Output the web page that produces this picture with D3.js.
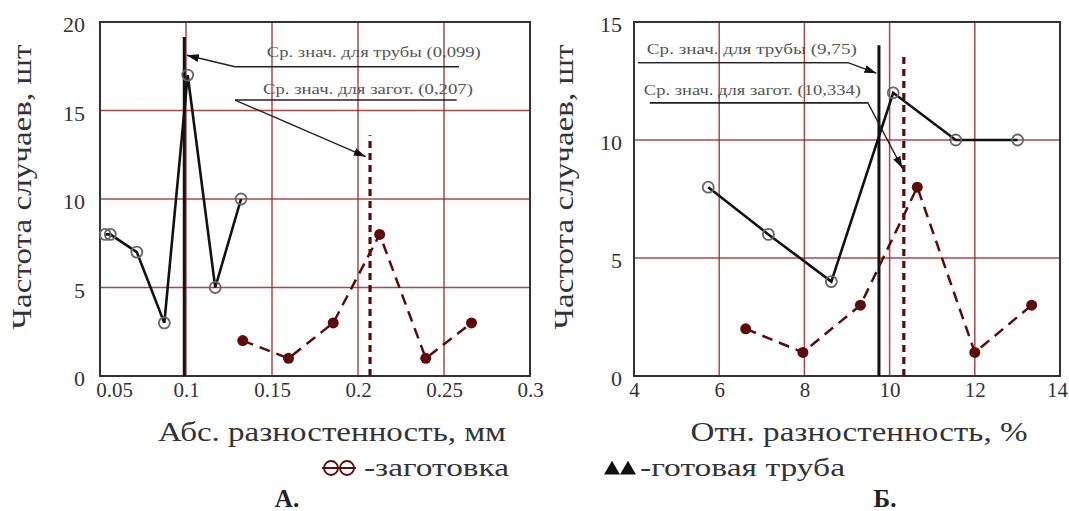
<!DOCTYPE html>
<html><head><meta charset="utf-8">
<script src="https://cdn.jsdelivr.net/npm/d3@7"></script>
<style>
html,body{margin:0;padding:0;background:#fff;}
svg text{font-family:"Liberation Serif","Times New Roman",Times,serif;}
</style></head>
<body><svg id="c" width="1069" height="511"></svg>
<script>
// ---------- data ----------
// Chart A: absolute wall-thickness variation, mm
const aXTicks = [0.05, 0.1, 0.15, 0.2, 0.25, 0.3];
const aXTickLabels = ["0.05", "0.1", "0.15", "0.2", "0.25", "0.3"];
const aYTicks = [0, 5, 10, 15, 20];
const aPipeX = [0.053, 0.056, 0.0714, 0.0874, 0.101, 0.117, 0.132];
const aPipeY = [8, 8, 7, 3, 17, 5, 10];
const aBlankX = [0.133, 0.1596, 0.1856, 0.2126, 0.2394, 0.266];
const aBlankY = [2, 1, 3, 8, 1, 3];
const aPipeMean = 0.099, aPipeMeanTop = 19.15;
const aBlankMean = 0.207, aBlankMeanTop = 13.6;
const aNoteText = ["Ср. знач. для трубы (0,099)", "Ср. знач. для загот. (0,207)"];

// Chart B: relative wall-thickness variation, %
const bXTicks = [4, 6, 8, 10, 12, 14];
const bXTickLabels = ["4", "6", "8", "10", "12", "14"];
const bYTicks = [0, 5, 10, 15];
const bPipeX = [5.743, 7.156, 8.632, 10.085, 11.553, 13.005];
const bPipeY = [8, 6, 4, 12, 10, 10];
const bBlankX = [6.622, 7.965, 9.315, 10.65, 12.0, 13.335];
const bBlankY = [2, 1, 3, 8, 1, 3];
const bPipeMean = 9.75, bPipeMeanTop = 14.02;
const bBlankMean = 10.334, bBlankMeanTop = 13.73;
const bNoteText = ["Ср. знач. для трубы  (9,75)", "Ср. знач. для загот. (10,334)"];

const yTitle = "Частота случаев, шт";
const aXTitle = "Абс. разностенность, мм";
const bXTitle = "Отн. разностенность, %";
const legendBlank = "-заготовка";
const legendPipe = "-готовая труба";
const panelA = "А.", panelB = "Б.";

// ---------- drawing ----------
const svg = d3.select("#c");
const GRID = "#9a2a2a", BLANK = "#5c0b0b", TXT = "#333";
const FONT = '"Liberation Serif","Times New Roman",Times,serif';

const xA = d3.scaleLinear().domain([0.05, 0.3]).range([100, 530]);
const yA = d3.scaleLinear().domain([0, 20]).range([376, 22]);
const xB = d3.scaleLinear().domain([4, 14]).range([634, 1060]);
const yB = d3.scaleLinear().domain([0, 15]).range([376, 22]);

svg.append("defs").append("marker")
  .attr("id", "ah").attr("viewBox", "0 0 12 8").attr("refX", 12).attr("refY", 4)
  .attr("markerWidth", 12).attr("markerHeight", 8).attr("markerUnits", "userSpaceOnUse")
  .attr("orient", "auto")
  .append("path").attr("d", "M0,0 L12,4 L0,8 Z").attr("fill", "#111");

function panel(x, y, o) {
  const g = svg.append("g");
  const [x0, x1] = x.range(), [y0, y1] = y.range();
  // grid
  g.selectAll(".gv").data(o.xTicks.slice(1, -1)).join("line")
    .attr("x1", d => x(d)).attr("x2", d => x(d)).attr("y1", y0).attr("y2", y1)
    .attr("stroke", GRID).attr("stroke-width", 1.5).attr("opacity", 0.85);
  g.selectAll(".gh").data(o.yTicks.slice(1, -1)).join("line")
    .attr("y1", d => y(d)).attr("y2", d => y(d)).attr("x1", x0).attr("x2", x1)
    .attr("stroke", GRID).attr("stroke-width", 1.5).attr("opacity", 0.85);
  // frame
  g.append("rect").attr("x", x0).attr("y", y1).attr("width", x1 - x0).attr("height", y0 - y1)
    .attr("fill", "none").attr("stroke", "#333").attr("stroke-width", 2);
  // axes
  const n = o.xTicks.length;
  const ax = g.append("g").attr("transform", `translate(0,${y0})`)
    .call(d3.axisBottom(x).tickValues(o.xTicks).tickSize(0).tickPadding(6)
      .tickFormat((d, i) => o.xLabels[i]));
  ax.select(".domain").remove();
  ax.selectAll("text").attr("font-size", 21).attr("fill", TXT).attr("font-family", FONT)
    .attr("dx", (d, i) => (i === 0 ? o.firstDx : (i === n - 1 ? o.lastDx : 0)));
  const ay = g.append("g").attr("transform", `translate(${x0},0)`)
    .call(d3.axisLeft(y).tickValues(o.yTicks).tickSize(0).tickPadding(o.yPad));
  ay.select(".domain").remove();
  ay.selectAll("text").attr("font-size", 22).attr("fill", TXT).attr("dy", "0.45em")
    .attr("font-family", FONT);

  // mean lines
  g.append("line").attr("x1", x(o.pipeMean)).attr("x2", x(o.pipeMean))
    .attr("y1", y(0)).attr("y2", y(o.pipeMeanTop)).attr("stroke", "#111").attr("stroke-width", 3);
  g.append("line").attr("x1", x(o.blankMean)).attr("x2", x(o.blankMean))
    .attr("y1", y(0)).attr("y2", y(o.blankMeanTop)).attr("stroke", BLANK)
    .attr("stroke-width", 3.2).attr("stroke-dasharray", "7,5");

  // blank series
  const blank = o.blankX.map((d, i) => [d, o.blankY[i]]);
  g.append("path").datum(blank)
    .attr("d", d3.line().x(d => x(d[0])).y(d => y(d[1])))
    .attr("fill", "none").attr("stroke", BLANK).attr("stroke-width", 2.5).attr("stroke-dasharray", "11,7");
  g.selectAll(".bc").data(blank).join("circle")
    .attr("cx", d => x(d[0])).attr("cy", d => y(d[1])).attr("r", 5.5).attr("fill", BLANK);

  // pipe series
  const pipe = o.pipeX.map((d, i) => [d, o.pipeY[i]]);
  g.append("path").datum(pipe)
    .attr("d", d3.line().x(d => x(d[0])).y(d => y(d[1])))
    .attr("fill", "none").attr("stroke", "#111").attr("stroke-width", 2.6);
  g.selectAll(".pc").data(pipe).join("circle")
    .attr("cx", d => x(d[0])).attr("cy", d => y(d[1])).attr("r", 5.5)
    .attr("fill", "none").attr("stroke", "#666").attr("stroke-width", 1.8);

  // annotations
  o.notes.forEach(nt => {
    g.append("text").attr("x", x(nt.tx)).attr("y", y(nt.ty)).attr("text-anchor", "middle")
      .attr("font-size", 14).attr("fill", "#555")
      .attr("textLength", nt.tlen).attr("lengthAdjust", "spacingAndGlyphs").text(nt.text);
    g.append("path").datum(nt.path)
      .attr("d", d3.line().x(d => x(d[0])).y(d => y(d[1])))
      .attr("fill", "none").attr("stroke", "#222").attr("stroke-width", 1.4)
      .attr("marker-end", "url(#ah)");
    g.append("line").attr("x1", x(nt.ul[0])).attr("x2", x(nt.ul[1]))
      .attr("y1", y(nt.ul[2])).attr("y2", y(nt.ul[2])).attr("stroke", "#222").attr("stroke-width", 1.4);
  });

  // titles
  g.append("text").attr("transform", `translate(${o.yTitleX},187) rotate(-90)`)
    .attr("text-anchor", "middle").attr("font-size", 28).attr("fill", TXT)
    .attr("textLength", 285).attr("lengthAdjust", "spacingAndGlyphs").text(yTitle);
  g.append("text").attr("x", o.xTitleX).attr("y", 441).attr("text-anchor", "middle")
    .attr("font-size", 27).attr("fill", TXT)
    .attr("textLength", o.xTitleLen).attr("lengthAdjust", "spacingAndGlyphs").text(o.xTitle);
}

panel(xA, yA, {
  xTicks: aXTicks, xLabels: aXTickLabels, yTicks: aYTicks, firstDx: 14, lastDx: 0, yPad: 15,
  pipeX: aPipeX, pipeY: aPipeY, blankX: aBlankX, blankY: aBlankY,
  pipeMean: aPipeMean, pipeMeanTop: aPipeMeanTop, blankMean: aBlankMean, blankMeanTop: aBlankMeanTop,
  notes: [
    {text: aNoteText[0], tx: 0.2092, ty: 18.05, tlen: 214,
     ul: [0.1285, 0.2587, 17.47], path: [[0.1285, 17.47], [0.1005, 18.12]]},
    {text: aNoteText[1], tx: 0.2058, ty: 15.95, tlen: 210,
     ul: [0.1285, 0.2574, 15.59], path: [[0.1285, 15.59], [0.2045, 12.39]]}
  ],
  yTitleX: 31, xTitleX: 332, xTitleLen: 348, xTitle: aXTitle
});

panel(xB, yB, {
  xTicks: bXTicks, xLabels: bXTickLabels, yTicks: bYTicks, firstDx: 0, lastDx: -3, yPad: 12,
  pipeX: bPipeX, pipeY: bPipeY, blankX: bBlankX, blankY: bBlankY,
  pipeMean: bPipeMean, pipeMeanTop: bPipeMeanTop, blankMean: bBlankMean, blankMeanTop: bBlankMeanTop,
  notes: [
    {text: bNoteText[0], tx: 6.767, ty: 13.64, tlen: 210,
     ul: [4.093, 9.023, 13.28], path: [[4.093, 13.28], [9.023, 13.28], [9.69, 12.83]]},
    {text: bNoteText[1], tx: 6.779, ty: 11.9, tlen: 217,
     ul: [4.372, 9.488, 11.58], path: [[4.372, 11.58], [9.488, 11.58], [10.3, 8.8]]}
  ],
  yTitleX: 573, xTitleX: 859, xTitleLen: 337, xTitle: bXTitle
});

// legend
const lg = svg.append("g");
[331, 347].forEach(cx => {
  lg.append("circle").attr("cx", cx).attr("cy", 468).attr("r", 7)
    .attr("fill", "none").attr("stroke", BLANK).attr("stroke-width", 1.8);
});
lg.append("line").attr("x1", 322).attr("x2", 356).attr("y1", 468).attr("y2", 468)
  .attr("stroke", BLANK).attr("stroke-width", 1.8);
lg.append("text").attr("x", 364).attr("y", 476).attr("font-size", 26).attr("fill", TXT)
  .attr("textLength", 145).attr("lengthAdjust", "spacingAndGlyphs").text(legendBlank);
[612, 628].forEach(cx => {
  lg.append("path").attr("d", d3.symbol(d3.symbolTriangle, 110)())
    .attr("transform", `translate(${cx},470)`).attr("fill", "#111");
});
lg.append("text").attr("x", 640).attr("y", 476).attr("font-size", 26).attr("fill", TXT)
  .attr("textLength", 205).attr("lengthAdjust", "spacingAndGlyphs").text(legendPipe);
lg.append("text").attr("x", 287).attr("y", 507).attr("text-anchor", "middle")
  .attr("font-size", 25).attr("font-weight", "bold").attr("fill", "#222").text(panelA);
lg.append("text").attr("x", 885).attr("y", 507).attr("text-anchor", "middle")
  .attr("font-size", 25).attr("font-weight", "bold").attr("fill", "#222").text(panelB);
</script></body></html>
